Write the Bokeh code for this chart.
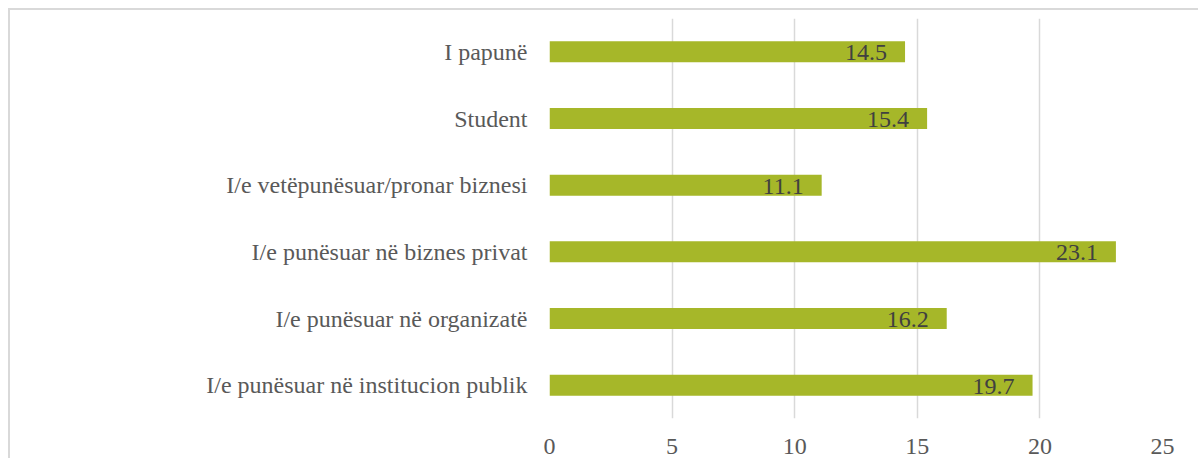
from bokeh.plotting import figure
from bokeh.models import ColumnDataSource, Range1d, FactorRange
from bokeh.embed import file_html
from bokeh.resources import INLINE
from bokeh.core.properties import value

# Data (bottom to top as drawn)
categories = [
    "I/e punësuar në institucion publik",
    "I/e punësuar në organizatë",
    "I/e punësuar në biznes privat",
    "I/e vetëpunësuar/pronar biznesi",
    "Student",
    "I papunë",
]
values = [19.7, 16.2, 23.1, 11.1, 15.4, 14.5]
labels = ["19.7", "16.2", "23.1", "11.1", "15.4", "14.5"]
x_ticks = [0, 5, 10, 15, 20, 25]

FONT = "Liberation Serif"

src = ColumnDataSource(dict(cat=categories, val=values, lab=labels))

p = figure(
    width=1190, height=450,
    y_range=FactorRange(*categories, range_padding=0),
    x_range=Range1d(0, 25),
    output_backend="svg", toolbar_location=None,
    min_border_left=539, min_border_right=38,
    min_border_top=8, min_border_bottom=42,
)
p.styles = {"margin-left": "8px", "margin-top": "8px",
            "border-left": "2px solid #d9d9d9", "border-top": "2px solid #d9d9d9"}
p.outline_line_color = None
p.background_fill_color = "white"
p.border_fill_color = "white"

p.hbar(y="cat", right="val", left=0, height=0.315, source=src,
       fill_color="#a6b729", line_color=None)

p.text(x="val", y="cat", text="lab", source=src,
       x_offset=-18, y_offset=1,
       text_align="right", text_baseline="middle",
       text_font=value(FONT), text_font_size="24px",
       text_color="#404040")

p.xaxis.ticker = x_ticks
p.xaxis.axis_line_color = None
p.xaxis.major_tick_line_color = None
p.xaxis.minor_tick_line_color = None
p.xaxis.major_label_text_font = FONT
p.xaxis.major_label_text_font_size = "24px"
p.xaxis.major_label_text_color = "#595959"
p.xaxis.major_label_standoff = 14

p.yaxis.axis_line_color = None
p.yaxis.major_tick_line_color = None
p.yaxis.minor_tick_line_color = None
p.yaxis.major_label_text_font = FONT
p.yaxis.major_label_text_font_size = "24px"
p.yaxis.major_label_text_color = "#595959"
p.yaxis.major_label_standoff = 16

p.xgrid.grid_line_color = "#d9d9d9"
p.xgrid.grid_line_width = 1.5
p.ygrid.grid_line_color = None

open("out.html", "w").write(file_html(p, INLINE))
